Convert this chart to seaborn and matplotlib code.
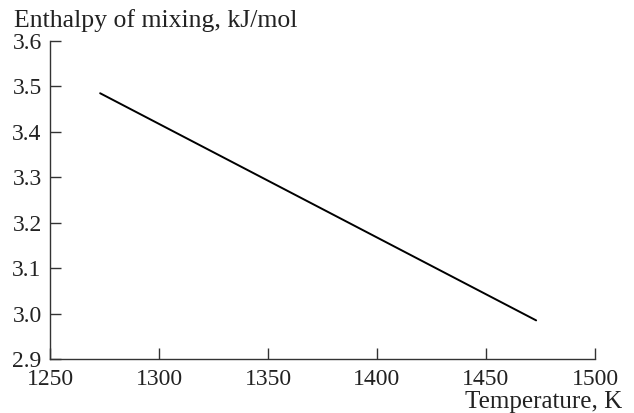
import matplotlib
matplotlib.use("Agg")
import matplotlib.pyplot as plt
import seaborn as sns
import pandas as pd

temperature = [1273, 1473]
enthalpy = [3.485, 2.985]
xticks = [1250, 1300, 1350, 1400, 1450, 1500]
yticks = [2.9, 3.0, 3.1, 3.2, 3.3, 3.4, 3.5, 3.6]

sns.set_style("ticks")
plt.rcParams['font.family'] = ['Liberation Serif', 'DejaVu Serif']

df = pd.DataFrame({"T": temperature, "H": enthalpy})

fig = plt.figure(figsize=(6.34, 4.13), dpi=100)
ax = fig.add_axes([50/634, 54/413, 545/634, 318/413])
sns.lineplot(data=df, x="T", y="H", ax=ax, color="black", linewidth=1.4)

ax.set_xlim(1250, 1500)
ax.set_ylim(2.9, 3.6)
ax.set_xticks(xticks)
ax.set_yticks(yticks)
ax.set_yticklabels([f"{v:.1f}" for v in yticks])
ax.set_xlabel("")
ax.set_ylabel("")
for s in ["top", "right"]:
    ax.spines[s].set_visible(False)
for s in ["left", "bottom"]:
    ax.spines[s].set_color("#333333")
    ax.spines[s].set_linewidth(1.0)
ax.tick_params(direction="in", length=8, width=1, colors="#333333",
               labelcolor="#222222", labelsize=17)
ax.tick_params(axis="x", pad=7)
ax.tick_params(axis="y", pad=6)

fig.text(14/634, 1 - 27/413, "Enthalpy of mixing, kJ/mol", fontsize=18.5,
         color="#222222", ha="left", va="baseline")
fig.text(622/634, 1 - 408/413, "Temperature, K", fontsize=18,
         color="#222222", ha="right", va="baseline")

fig.savefig("out.png", dpi=100)
